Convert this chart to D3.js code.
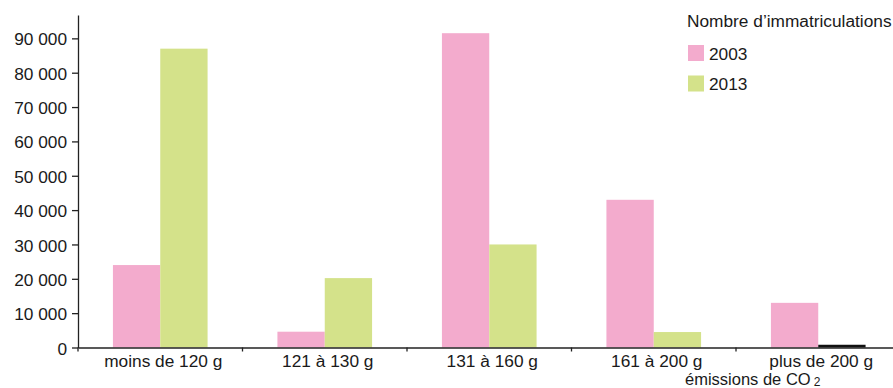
<!DOCTYPE html>
<html>
<head>
<meta charset="utf-8">
<script src="https://cdn.jsdelivr.net/npm/d3@7"></script>
<style>
  html, body { margin: 0; padding: 0; background: #fff; }
  svg { display: block; }
  text { font-family: "Liberation Sans", Arial, Helvetica, sans-serif; fill: #1a1a1a; }
</style>
</head>
<body>
<svg id="chart" width="893" height="388"></svg>
<script>
// Registrations by CO2 emission class
const categories = ["moins de 120 g", "121 à 130 g", "131 à 160 g", "161 à 200 g", "plus de 200 g"];
const series = ["2003", "2013"];
const values2003 = [24000, 4600, 91500, 43000, 13000];
const values2013 = [87000, 20200, 30000, 4500, 800];
const yTicks = [0, 10000, 20000, 30000, 40000, 50000, 60000, 70000, 80000, 90000];
const colors = { "2003": "#f3abcd", "2013": "#d4e28a" };
const lastClassColor2013 = "#111111";

const fontSize = 17.3;
const svg = d3.select("#chart");

const x0 = d3.scaleBand().domain(categories).range([78, 900.5]).paddingInner(0).paddingOuter(0);
const x1 = d3.scaleBand().domain(series).range([0, x0.bandwidth()]).paddingInner(0).paddingOuter(0.738);
const y = d3.scaleLinear().domain([0, 96800]).range([347.5, 15]);

const rows = categories.map((c, i) => ({ cat: c, idx: i, "2003": values2003[i], "2013": values2013[i] }));

// Bars
const groups = svg.append("g").selectAll("g").data(rows).join("g")
  .attr("transform", d => `translate(${x0(d.cat)},0)`);
groups.selectAll("rect")
  .data(d => series.map(s => ({ s, v: d[s], idx: d.idx })))
  .join("rect")
  .attr("x", d => x1(d.s))
  .attr("width", x1.bandwidth())
  .attr("y", d => y(d.v))
  .attr("height", d => y(0) - y(d.v))
  .attr("fill", d => (d.s === "2013" && d.idx === categories.length - 1) ? lastClassColor2013 : colors[d.s]);

// Y axis
const fmt = v => d3.format(",")(v).replace(/,/g, "\u00a0");
const yAxis = svg.append("g").attr("transform", "translate(78,0)")
  .call(d3.axisLeft(y).tickValues(yTicks).tickFormat(fmt).tickSize(6).tickPadding(5).tickSizeOuter(0));
yAxis.select(".domain").attr("stroke", "#222").attr("stroke-width", 1.3);
yAxis.selectAll(".tick line").attr("stroke", "#222").attr("stroke-width", 1.3);
yAxis.selectAll("text").attr("font-size", fontSize).attr("font-family", null).attr("dy", "0.38em");

// X axis with ticks on category boundaries
const xAxis = svg.append("g").attr("transform", `translate(0,${y(0)})`)
  .call(d3.axisBottom(x0).tickSize(0).tickPadding(7.5).tickSizeOuter(0));
xAxis.select(".domain").attr("stroke", "#222").attr("stroke-width", 1.3);
xAxis.selectAll("text").attr("font-size", fontSize).attr("font-family", null).attr("x", 3);
const bounds = categories.map(c => x0(c));
xAxis.append("g").selectAll("line").data(bounds).join("line")
  .attr("x1", d => d).attr("x2", d => d)
  .attr("y1", 0).attr("y2", 4)
  .attr("stroke", "#222").attr("stroke-width", 1.3);

// Axis title
const xt = svg.append("text").attr("x", 685).attr("y", 385.3).attr("font-size", 16.5)
  .text("émissions de CO");
xt.append("tspan").attr("dx", 3).attr("dy", 1).attr("font-size", 12).text("2");

// Legend
const legend = svg.append("g");
legend.append("text").attr("x", 687).attr("y", 27).attr("font-size", fontSize)
  .text("Nombre d\u2019immatriculations");
series.forEach((s, i) => {
  legend.append("rect").attr("x", 688).attr("y", 45 + i * 30.5).attr("width", 16).attr("height", 16)
    .attr("fill", colors[s]);
  legend.append("text").attr("x", 709).attr("y", 60 + i * 30).attr("font-size", fontSize).text(s);
});
</script>
</body>
</html>
